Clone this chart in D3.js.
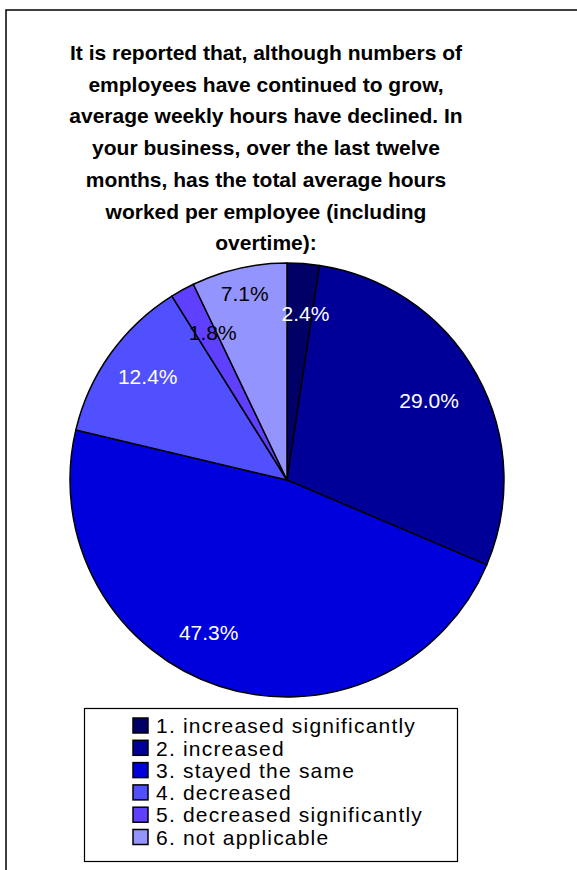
<!DOCTYPE html>
<html><head><meta charset="utf-8">
<script src="https://cdn.jsdelivr.net/npm/d3@7"></script>
<style>body{margin:0;background:#fff}svg{display:block}</style>
</head><body>
<svg id="c" width="577" height="870"></svg>
<script>
const titleLines = [
  "It is reported that, although numbers of",
  "employees have continued to grow,",
  "average weekly hours have declined. In",
  "your business, over the last twelve",
  "months, has the total average hours",
  "worked per employee (including",
  "overtime):"
];
const categories = ["1. increased significantly","2. increased","3. stayed the same","4. decreased","5. decreased significantly","6. not applicable"];
const values = [2.4, 29.0, 47.3, 12.4, 1.8, 7.1];
const colors = ["#000066","#000099","#0000DD","#5050FF","#6040FF","#9494FF"];
const labelColors = ["#fff","#fff","#fff","#fff","#000","#000"];
// label placement tweaks (radius factor, angle shift in degrees)
const labelRadius = [0.77,0.75,0.79,0.80,0.76,0.88];
const labelShift = [2,0,9,1,2,0];

const svg = d3.select("#c");
const font = "'Liberation Sans', Arial, sans-serif";

svg.append("rect").attr("x",6).attr("y",10).attr("width",600).attr("height",900)
  .attr("fill","none").attr("stroke","#000").attr("stroke-width",1.5);

svg.append("g").selectAll("text").data(titleLines).join("text")
  .attr("x",266).attr("y",(d,i)=>60+i*31.7)
  .attr("text-anchor","middle").attr("font-family",font).attr("font-weight","bold")
  .attr("font-size",21).attr("fill","#000").text(d=>d);

const cx=287, cy=480, R=217;
const pie = d3.pie().sort(null).value(d=>d)(values);
const arc = d3.arc().innerRadius(0).outerRadius(R);
const g = svg.append("g").attr("transform",`translate(${cx},${cy})`);
g.selectAll("path").data(pie).join("path")
  .attr("d",arc).attr("fill",(d,i)=>colors[i])
  .attr("stroke","#000").attr("stroke-width",1.5).attr("stroke-linejoin","round");
g.selectAll("text").data(pie).join("text")
  .attr("transform",(d,i)=>{
    const a = (d.startAngle+d.endAngle)/2 + labelShift[i]*Math.PI/180;
    const r = R*labelRadius[i];
    return `translate(${r*Math.sin(a)},${-r*Math.cos(a)})`;
  })
  .attr("text-anchor","middle").attr("dy","0.35em")
  .attr("font-family",font).attr("font-size",21)
  .attr("fill",(d,i)=>labelColors[i])
  .text(d=>d.data.toFixed(1)+"%");

const lg = svg.append("g");
lg.append("rect").attr("x",84.5).attr("y",708.5).attr("width",373).attr("height",153)
  .attr("fill","#fff").attr("stroke","#000").attr("stroke-width",1.2);
const rows = lg.selectAll("g").data(categories).join("g")
  .attr("transform",(d,i)=>`translate(133,${718+i*22.3})`);
rows.append("rect").attr("width",15).attr("height",15)
  .attr("fill",(d,i)=>colors[i]).attr("stroke","#000").attr("stroke-width",1.5);
rows.append("text").attr("x",23).attr("y",15.2)
  .attr("font-family",font).attr("font-size",21).attr("letter-spacing",1.2)
  .attr("fill","#000").text(d=>d);
</script>
</body></html>
